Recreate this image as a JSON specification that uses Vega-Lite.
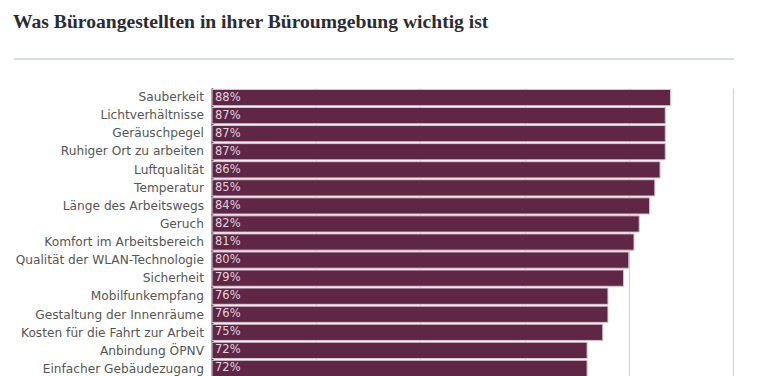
{
  "$schema": "https://vega.github.io/schema/vega-lite/v6.json",
  "background": "white",
  "padding": {"left": 13, "top": 12, "right": 0, "bottom": 0},
  "title": {
    "text": "Was Büroangestellten in ihrer Büroumgebung wichtig ist",
    "anchor": "start",
    "frame": "bounds",
    "font": "Liberation Serif",
    "fontSize": 19.6,
    "fontWeight": "bold",
    "color": "#2b2b36",
    "offset": 24
  },
  "datasets": {
    "survey": [
      {"item": "Sauberkeit", "value": 0.88},
      {"item": "Lichtverhältnisse", "value": 0.87},
      {"item": "Geräuschpegel", "value": 0.87},
      {"item": "Ruhiger Ort zu arbeiten", "value": 0.87},
      {"item": "Luftqualität", "value": 0.86},
      {"item": "Temperatur", "value": 0.85},
      {"item": "Länge des Arbeitswegs", "value": 0.84},
      {"item": "Geruch", "value": 0.82},
      {"item": "Komfort im Arbeitsbereich", "value": 0.81},
      {"item": "Qualität der WLAN-Technologie", "value": 0.80},
      {"item": "Sicherheit", "value": 0.79},
      {"item": "Mobilfunkempfang", "value": 0.76},
      {"item": "Gestaltung der Innenräume", "value": 0.76},
      {"item": "Kosten für die Fahrt zur Arbeit", "value": 0.75},
      {"item": "Anbindung ÖPNV", "value": 0.72},
      {"item": "Einfacher Gebäudezugang", "value": 0.72}
    ]
  },
  "spacing": 28,
  "vconcat": [
    {
      "width": 720,
      "height": 2,
      "data": {"values": [{"line": 0}]},
      "mark": {"type": "rule", "color": "#d5dde5", "strokeWidth": 2},
      "encoding": {
        "y": {"field": "line", "type": "quantitative", "axis": null, "scale": {"domain": [0, 1]}}
      }
    },
    {
      "spacing": 7,
      "hconcat": [
        {
          "width": 190,
          "height": 290,
          "data": {"name": "survey"},
          "mark": {"type": "text", "align": "right", "font": "DejaVu Sans", "fontSize": 12.2, "color": "#555555"},
          "encoding": {
            "y": {
              "field": "item",
              "type": "nominal",
              "sort": null,
              "scale": {"paddingInner": 0.1, "paddingOuter": 0.08},
              "axis": null
            },
            "x": {"datum": 1, "type": "quantitative", "scale": {"domain": [0, 1]}, "axis": null},
            "text": {"field": "item", "type": "nominal"}
          }
        },
        {
          "width": 521,
          "height": 290,
          "data": {"name": "survey"},
          "encoding": {
            "y": {
              "field": "item",
              "type": "nominal",
              "sort": null,
              "scale": {"paddingInner": 0.1, "paddingOuter": 0.08},
              "axis": {
                "title": null,
                "ticks": false,
                "labels": false,
                "domain": true,
                "domainColor": "#2a2a2a",
                "domainWidth": 2
              }
            }
          },
          "layer": [
            {
              "mark": {"type": "bar", "color": "#5f2646", "stroke": "#d9c5d0", "strokeWidth": 1},
              "encoding": {
                "x": {
                  "field": "value",
                  "type": "quantitative",
                  "scale": {"domain": [0, 1]},
                  "axis": {
                    "title": null,
                    "values": [0, 0.2, 0.4, 0.6, 0.8, 1],
                    "grid": true,
                    "gridColor": "#d0d0d0",
                    "labels": false,
                    "ticks": false,
                    "domain": false
                  }
                }
              }
            },
            {
              "mark": {"type": "text", "align": "left", "dx": 3, "font": "DejaVu Sans", "fontSize": 11.5, "color": "#e3d3dc"},
              "encoding": {
                "x": {"datum": 0, "type": "quantitative"},
                "text": {"field": "value", "type": "quantitative", "format": ".0%"}
              }
            }
          ]
        }
      ]
    }
  ],
  "config": {"view": {"stroke": null}}
}
